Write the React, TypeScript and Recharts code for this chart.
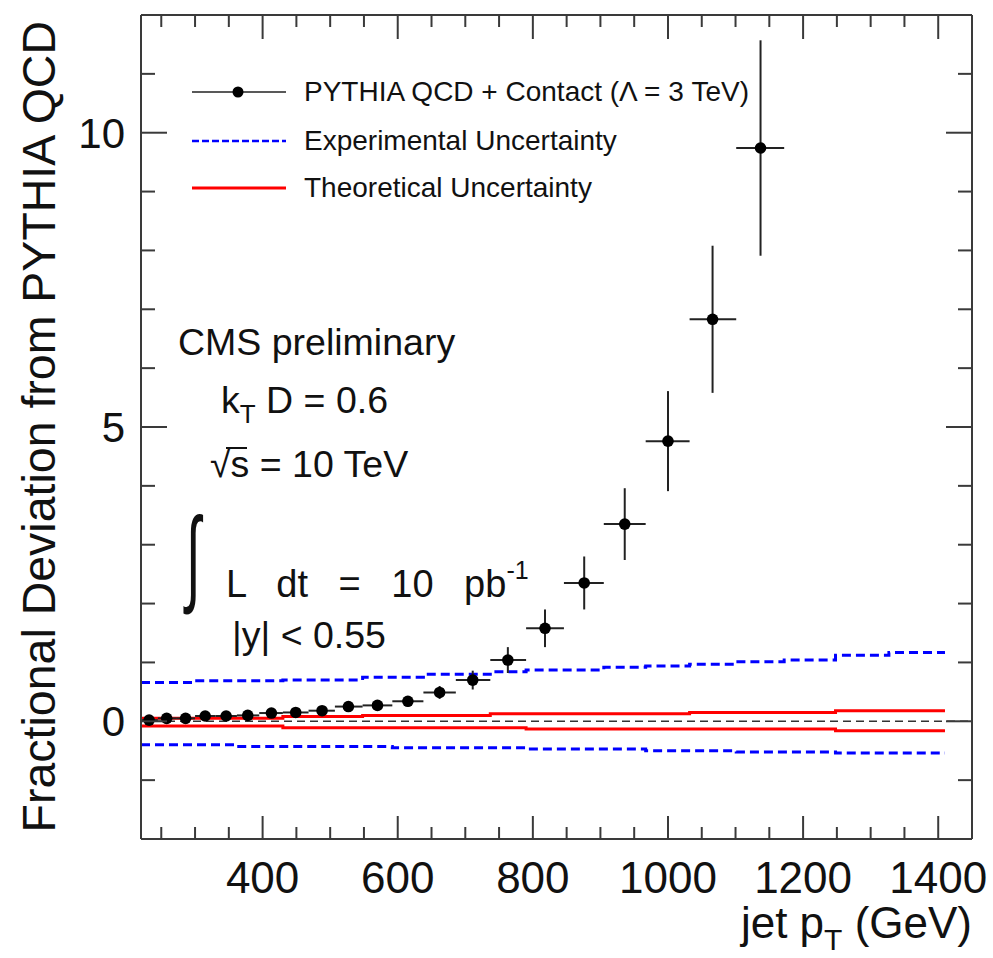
import React from 'react';
import { ComposedChart, Line, Scatter, ErrorBar, XAxis, YAxis, ReferenceLine } from 'recharts';

// jet pT bin edges (GeV)
const binEdges = [220, 245, 272, 300, 330, 362, 395, 430, 468, 507, 548, 592, 638, 686, 737, 790, 846, 905, 967, 1032, 1101, 1172, 1248, 1327, 1410];

// PYTHIA QCD + Contact points (fractional deviation)
const pointX = [232, 258, 286, 315, 346, 378, 413, 449, 488, 527, 570, 615, 662, 711, 763, 818, 876, 936, 1000, 1066, 1137];
const pointY = [0.02, 0.05, 0.05, 0.09, 0.09, 0.1, 0.14, 0.15, 0.18, 0.25, 0.27, 0.34, 0.49, 0.7, 1.04, 1.58, 2.35, 3.35, 4.76, 6.83, 9.74];
const pointErr = [0.05, 0.05, 0.05, 0.05, 0.05, 0.05, 0.06, 0.06, 0.07, 0.07, 0.08, 0.09, 0.11, 0.16, 0.22, 0.32, 0.45, 0.61, 0.85, 1.25, 1.83];

// uncertainty bands, one value per bin
const expUp = [0.66, 0.66, 0.66, 0.69, 0.69, 0.69, 0.69, 0.7, 0.7, 0.7, 0.75, 0.75, 0.8, 0.8, 0.84, 0.87, 0.87, 0.92, 0.94, 0.97, 1.01, 1.04, 1.12, 1.17];
const expDown = [-0.4, -0.4, -0.4, -0.4, -0.4, -0.43, -0.43, -0.43, -0.43, -0.43, -0.43, -0.45, -0.45, -0.45, -0.45, -0.47, -0.47, -0.47, -0.5, -0.5, -0.52, -0.52, -0.54, -0.54];
const theoUp = [0.05, 0.05, 0.05, 0.05, 0.05, 0.05, 0.05, 0.08, 0.08, 0.08, 0.1, 0.1, 0.1, 0.1, 0.13, 0.13, 0.13, 0.13, 0.13, 0.15, 0.15, 0.15, 0.18, 0.18];
const theoDown = [-0.08, -0.08, -0.08, -0.08, -0.08, -0.08, -0.08, -0.11, -0.11, -0.11, -0.11, -0.11, -0.11, -0.11, -0.11, -0.13, -0.13, -0.13, -0.13, -0.13, -0.13, -0.13, -0.16, -0.16];

const xTicks = [250, 300, 350, 400, 450, 500, 550, 600, 650, 700, 750, 800, 850, 900, 950, 1000, 1050, 1100, 1150, 1200, 1250, 1300, 1350, 1400];
const yTicks = [-1, 0, 1, 2, 3, 4, 5, 6, 7, 8, 9, 10, 11];

const FONT = '"Liberation Sans", Arial, Helvetica, sans-serif';
const FRAME = '#3a3a3a';
const TXT = '#111';

const toSteps = (vals: number[]) =>
  binEdges.map((e, i) => ({ x: e, y: vals[Math.min(i, vals.length - 1)] }));

const points = pointX.map((x, i) => ({
  x,
  y: pointY[i],
  ey: pointErr[i],
  ex: [x - binEdges[i], binEdges[i + 1] - x],
}));

const BottomTick = (p: any) => {
  const major = p.payload.value % 200 === 0;
  return (
    <g>
      <line x1={p.x} x2={p.x} y1={p.y} y2={p.y - (major ? 23 : 12)} stroke={FRAME} strokeWidth={2} />
      {major && (
        <text x={p.x} y={p.y + 54} textAnchor="middle" fontSize={44} fontFamily={FONT} fill={TXT}>
          {p.payload.value}
        </text>
      )}
    </g>
  );
};

const TopTick = (p: any) => {
  const major = p.payload.value % 200 === 0;
  return <line x1={p.x} x2={p.x} y1={p.y} y2={p.y + (major ? 24 : 12)} stroke={FRAME} strokeWidth={2} />;
};

const LeftTick = (p: any) => {
  const major = p.payload.value % 5 === 0;
  return (
    <g>
      <line x1={p.x} x2={p.x + (major ? 26 : 14)} y1={p.y} y2={p.y} stroke={FRAME} strokeWidth={2} />
      {major && (
        <text x={p.x - 16} y={p.y + 15} textAnchor="end" fontSize={42} fontFamily={FONT} fill={TXT}>
          {p.payload.value}
        </text>
      )}
    </g>
  );
};

const RightTick = (p: any) => {
  const major = p.payload.value % 5 === 0;
  return <line x1={p.x} x2={p.x - (major ? 26 : 14)} y1={p.y} y2={p.y} stroke={FRAME} strokeWidth={2} />;
};

function Overlay() {
  return (
    <svg width={993} height={958} style={{ position: 'absolute', left: 0, top: 0, pointerEvents: 'none' }} fontFamily={FONT} fill={TXT}>
      {/* axis titles */}
      <text transform="rotate(-90)" x={-21} y={55} textAnchor="end" fontSize={46.5}>
        Fractional Deviation from PYTHIA QCD
      </text>
      <text x={972} y={938} textAnchor="end" fontSize={44}>
        jet p<tspan dy={12} fontSize={30}>T</tspan>
        <tspan dy={-12}> (GeV)</tspan>
      </text>

      {/* legend */}
      <line x1={192} x2={286} y1={92} y2={92} stroke="#222" strokeWidth={1.5} />
      <circle cx={238} cy={92} r={5.5} fill="#000" />
      <text x={304} y={101} fontSize={28}>PYTHIA QCD + Contact (Λ = 3 TeV)</text>
      <line x1={192} x2={286} y1={141} y2={141} stroke="#0000ff" strokeWidth={2.5} strokeDasharray="7 3" />
      <text x={304} y={150} fontSize={28}>Experimental Uncertainty</text>
      <line x1={192} x2={286} y1={188} y2={188} stroke="#ff0000" strokeWidth={3} />
      <text x={304} y={197} fontSize={28}>Theoretical Uncertainty</text>

      {/* annotations */}
      <text x={178} y={355} fontSize={37.5}>CMS preliminary</text>
      <text x={221} y={413} fontSize={37.5}>
        k<tspan dy={10} fontSize={26}>T</tspan>
        <tspan dy={-10}> D = 0.6</tspan>
      </text>
      <text x={210} y={477} fontSize={37.5}>√s = 10 TeV</text>
      <line x1={226} x2={247} y1={448} y2={448} stroke={TXT} strokeWidth={2} />
      <text transform="translate(186,592) scale(0.5,1)" x={0} y={0} fontSize={106}>∫</text>
      <text x={226} y={597} fontSize={38} wordSpacing={20}>
        L dt = 10 pb<tspan dy={-18} fontSize={25}>-1</tspan>
      </text>
      <text x={232} y={648} fontSize={37.5}>|y| &lt; 0.55</text>
    </svg>
  );
}

export default function App() {
  return (
    <div style={{ position: 'absolute', left: 0, top: 0, width: 993, height: 958, background: '#fff' }}>
      <ComposedChart width={993} height={958} margin={{ top: 14, right: 20, bottom: 0, left: 0 }}>
        <XAxis
          xAxisId="b"
          dataKey="x"
          type="number"
          domain={[220, 1450]}
          ticks={xTicks}
          interval={0}
          height={119}
          tickSize={0}
          tickMargin={0}
          tickLine={false}
          axisLine={{ stroke: FRAME, strokeWidth: 2 }}
          tick={BottomTick}
        />
        <XAxis
          xAxisId="t"
          orientation="top"
          dataKey="x"
          type="number"
          domain={[220, 1450]}
          ticks={xTicks}
          interval={0}
          height={1}
          tickSize={0}
          tickMargin={0}
          tickLine={false}
          axisLine={{ stroke: FRAME, strokeWidth: 2 }}
          tick={TopTick}
        />
        <YAxis
          yAxisId="l"
          type="number"
          domain={[-2, 12]}
          ticks={yTicks}
          interval={0}
          width={141}
          tickSize={0}
          tickMargin={0}
          tickLine={false}
          axisLine={{ stroke: FRAME, strokeWidth: 2 }}
          tick={LeftTick}
        />
        <YAxis
          yAxisId="r"
          orientation="right"
          type="number"
          domain={[-2, 12]}
          ticks={yTicks}
          interval={0}
          width={1}
          tickSize={0}
          tickMargin={0}
          tickLine={false}
          axisLine={{ stroke: FRAME, strokeWidth: 2 }}
          tick={RightTick}
        />
        <ReferenceLine xAxisId="b" yAxisId="l" y={0} stroke="#333" strokeWidth={1.5} strokeDasharray="8 5" />
        <Line xAxisId="b" yAxisId="l" data={toSteps(expUp)} dataKey="y" type="stepAfter" stroke="#0000ff" strokeWidth={3} strokeDasharray="9 5" dot={false} isAnimationActive={false} />
        <Line xAxisId="b" yAxisId="l" data={toSteps(expDown)} dataKey="y" type="stepAfter" stroke="#0000ff" strokeWidth={3} strokeDasharray="9 5" dot={false} isAnimationActive={false} />
        {/* theory band bound to the mirrored top/right axes (same domains) so the full frame is drawn */}
        <Line xAxisId="t" yAxisId="r" data={toSteps(theoUp)} dataKey="y" type="stepAfter" stroke="#ff0000" strokeWidth={3} dot={false} isAnimationActive={false} />
        <Line xAxisId="t" yAxisId="r" data={toSteps(theoDown)} dataKey="y" type="stepAfter" stroke="#ff0000" strokeWidth={3} dot={false} isAnimationActive={false} />
        <Scatter
          xAxisId="b"
          yAxisId="l"
          data={points}
          dataKey="y"
          isAnimationActive={false}
          shape={(p: any) => <circle cx={p.cx} cy={p.cy} r={5.8} fill="#000" />}
        >
          <ErrorBar dataKey="ex" direction="x" width={0} stroke="#222" strokeWidth={2} isAnimationActive={false} />
          <ErrorBar dataKey="ey" direction="y" width={0} stroke="#222" strokeWidth={2} isAnimationActive={false} />
        </Scatter>
      </ComposedChart>
      <Overlay />
    </div>
  );
}
